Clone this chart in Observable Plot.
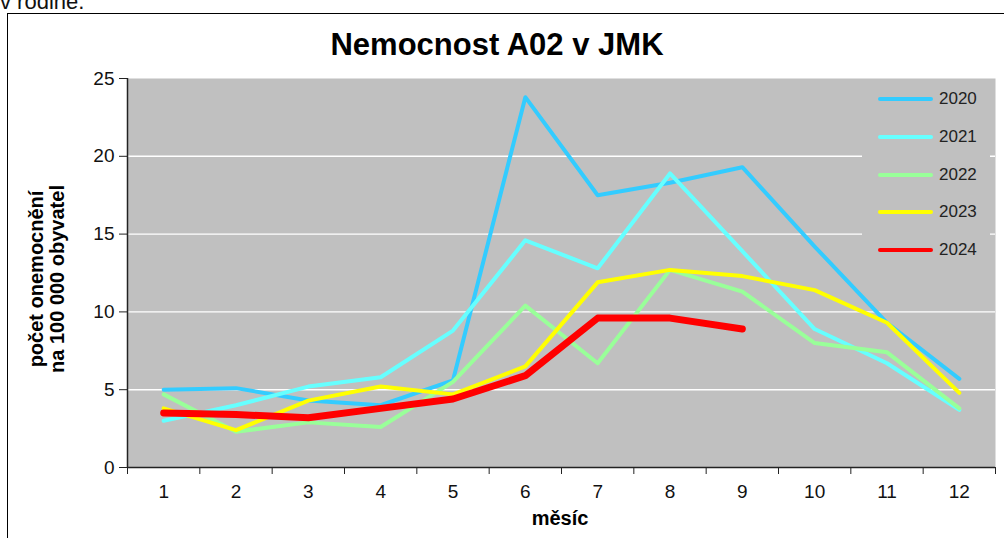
<!DOCTYPE html>
<html>
<head>
<meta charset="utf-8">
<script src="https://cdn.jsdelivr.net/npm/d3@7"></script>
<script src="https://cdn.jsdelivr.net/npm/@observablehq/plot@0.6"></script>
<style>
  html, body { margin: 0; padding: 0; background: #fff; }
  #wrap { position: relative; width: 1004px; height: 538px; overflow: hidden; font-family: "Liberation Sans", Arial, sans-serif; }
  #wrap svg { position: absolute; left: 0; top: 0; }
  .abs { position: absolute; white-space: nowrap; }
  #frame { position: absolute; left: 7px; top: 13px; width: 1100px; height: 600px; border: 1px solid #000; box-sizing: border-box; pointer-events: none; }
  #legend { position: absolute; left: 862px; top: 80px; width: 128px; height: 190px; background: #C0C0C0; }
  .item { position: absolute; left: 16px; height: 20px; display: flex; align-items: center; font-size: 17px; color: #222; }
  .sw { display: inline-block; width: 55px; height: 4.5px; border-radius: 2.5px; margin-right: 6px; }
</style>
</head>
<body>
<div id="wrap">
  <div class="abs" style="left:0;top:-9px;font-size:22px;line-height:22px;color:#111;">v rodině.</div>
  <div id="chart"></div>
  <div class="abs" style="left:497px;top:29px;transform:translateX(-50%);font-size:31px;line-height:31px;font-weight:bold;color:#000;">Nemocnost A02 v JMK</div>
  <div class="abs" style="left:47px;top:279px;transform:translate(-50%,-50%) rotate(-90deg);font-size:20px;line-height:21px;font-weight:bold;text-align:center;color:#000;">počet onemocnění<br>na 100 000 obyvatel</div>
  <div class="abs" style="left:560px;top:508px;transform:translateX(-50%);font-size:20px;line-height:20px;font-weight:bold;color:#000;">měsíc</div>
  <div id="legend"></div>
  <div id="frame"></div>
</div>
<script>
const months = [1, 2, 3, 4, 5, 6, 7, 8, 9, 10, 11, 12];
const years = ["2020", "2021", "2022", "2023", "2024"];
const colors = ["#33CCFF", "#66FFFF", "#99FF99", "#FFFF00", "#FF0000"];
const v2020 = [5.0, 5.1, 4.3, 4.0, 5.6, 23.8, 17.5, 18.3, 19.3, 14.2, 9.3, 5.7];
const v2021 = [3.0, 4.0, 5.2, 5.8, 8.8, 14.6, 12.8, 18.9, 13.9, 8.9, 6.7, 3.7];
const v2022 = [4.7, 2.3, 2.9, 2.6, 5.5, 10.4, 6.7, 12.7, 11.3, 8.0, 7.4, 3.8];
const v2023 = [3.8, 2.4, 4.3, 5.2, 4.7, 6.5, 11.9, 12.7, 12.3, 11.4, 9.3, 4.8];
const v2024 = [3.5, 3.4, 3.2, 3.8, 4.4, 5.9, 9.6, 9.6, 8.9];
const yTicks = [0, 5, 10, 15, 20, 25];
const gridValues = [5, 10, 15, 20];

const series = [v2020, v2021, v2022, v2023, v2024];
const data = series.flatMap((vals, i) => vals.map((v, j) => ({ year: years[i], month: months[j], value: v })));
const bounds = [...months.map(m => m - 0.5), months[months.length - 1] + 0.5];

const chart = Plot.plot({
  width: 1004,
  height: 538,
  marginLeft: 127,
  marginRight: 9,
  marginTop: 78,
  marginBottom: 71,
  style: { fontFamily: "Liberation Sans, Arial, sans-serif", background: "transparent", overflow: "visible", color: "#111" },
  x: { type: "linear", domain: [bounds[0], bounds[bounds.length - 1]] },
  y: { domain: [0, 25] },
  color: { domain: years, range: colors },
  marks: [
    Plot.frame({ fill: "#C0C0C0", stroke: null }),
    Plot.ruleY(gridValues, { stroke: "#fff", strokeWidth: 1.4 }),
    Plot.line(data.filter(d => d.year !== "2024"), { x: "month", y: "value", z: "year", stroke: "year", strokeWidth: 4, strokeLinejoin: "round", strokeLinecap: "round" }),
    Plot.line(data.filter(d => d.year === "2024"), { x: "month", y: "value", z: "year", stroke: "year", strokeWidth: 7, strokeLinejoin: "round", strokeLinecap: "round" }),
    Plot.ruleX([bounds[0]], { stroke: "#222", strokeWidth: 1.5 }),
    Plot.ruleY([0], { stroke: "#222", strokeWidth: 1.5 }),
    Plot.axisY({ ticks: yTicks, tickSize: 8, tickPadding: 5, fontSize: 19, label: null, stroke: "#222", fill: "#111" }),
    Plot.axisX({ ticks: bounds, tickSize: 7, tickFormat: () => "", label: null, stroke: "#222" }),
    Plot.axisX({ ticks: months, tickSize: 0, tickPadding: 17, fontSize: 19, label: null, fill: "#111" })
  ]
});
document.getElementById("chart").appendChild(chart);

const legend = document.getElementById("legend");
const centers = [19, 57, 95, 132, 170];
years.forEach((y, i) => {
  const it = document.createElement("div");
  it.className = "item";
  it.style.top = (centers[i] - 10) + "px";
  const sw = document.createElement("span");
  sw.className = "sw";
  sw.style.background = colors[i];
  it.appendChild(sw);
  it.appendChild(document.createTextNode(y));
  legend.appendChild(it);
});
</script>
</body>
</html>
